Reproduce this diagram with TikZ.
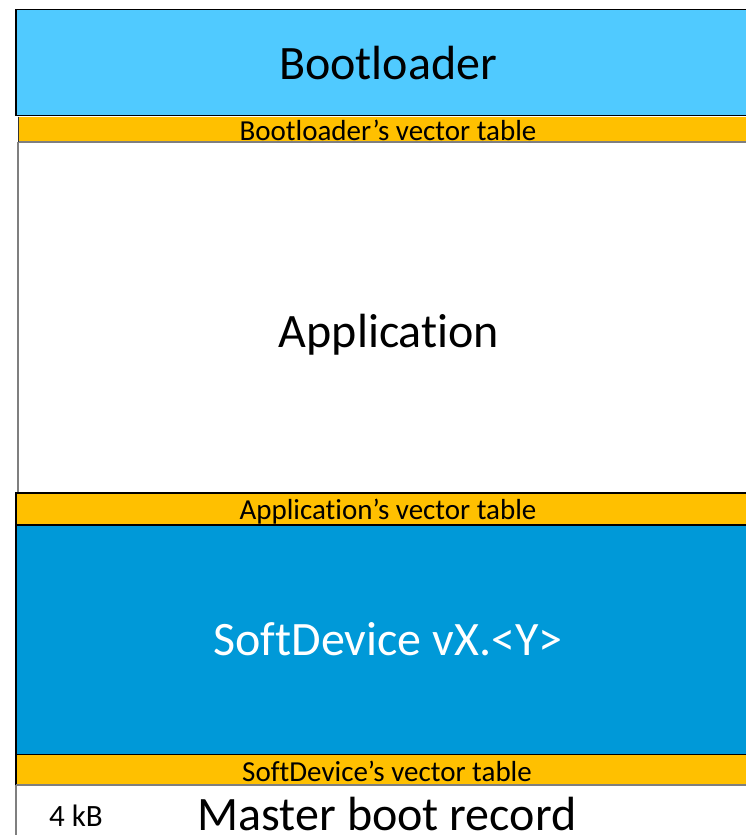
\documentclass[tikz,border=0pt]{standalone}
\usepackage{fontspec}
\setmainfont[Ligatures=NoCommon]{Carlito}
\definecolor{bllight}{HTML}{50CAFF}
\definecolor{sdblue}{HTML}{0099D8}
\definecolor{vtorange}{HTML}{FFC000}
\definecolor{edgegray}{HTML}{7F7F7F}
\begin{document}
\begin{tikzpicture}[x=1pt,y=-1pt,
  region/.style={line width=1.2pt},
  bigtext/.style={font=\fontsize{48}{50}\selectfont, inner sep=0pt, anchor=base},
  vttext/.style={font=\fontsize{29}{30}\selectfont, inner sep=0pt, anchor=base},
]
\useasboundingbox (0,0) rectangle (746,835);
\clip (0,0) rectangle (746,835);
% Bootloader
\path[fill=bllight, draw=black, region] (16,9.5) rectangle (770,115.5);
\coordinate (blc) at (388,79);
\node[bigtext] (bl) at (blc) {Bootloader};
% Bootloader vector table
\path[fill=vtorange] (18,116.5) rectangle (770,142);
\draw[edgegray, line width=1.2pt] (18,142) -- (770,142);
\draw[black!80, line width=1pt] (18,116.5) -- (18,142);
\node[vttext] (blvt) at (388,140) {Bootloader’s vector table};
% Application
\draw[edgegray, line width=1.2pt] (18,142) -- (18,493);
\node[bigtext] (app) at (389,347) {Application};
% Application vector table
\path[fill=vtorange, draw=black, region] (16,493) rectangle (770,525);
\node[vttext] (appvt) at (388,519) {Application’s vector table};
% SoftDevice
\path[fill=sdblue, draw=black, region] (16,525) rectangle (770,755);
\node[bigtext, text=white] (sd) at (388,655) {SoftDevice vX.<Y>};
% SoftDevice vector table
\path[fill=vtorange] (16,755) rectangle (770,785);
\draw[black, line width=1.2pt] (16,755) -- (16,785);
\draw[edgegray, line width=1.2pt] (16,785) -- (770,785);
\node[vttext] (sdvt) at (387,781) {SoftDevice’s vector table};
% Master boot record
\draw[edgegray, line width=1.2pt] (16,785) -- (16,840);
\node[vttext, font=\fontsize{31}{32}\selectfont] (kb) at (76,826) {4 kB};
\node[bigtext] (mbr) at (387,830) {Master boot record};
\end{tikzpicture}
\end{document}
